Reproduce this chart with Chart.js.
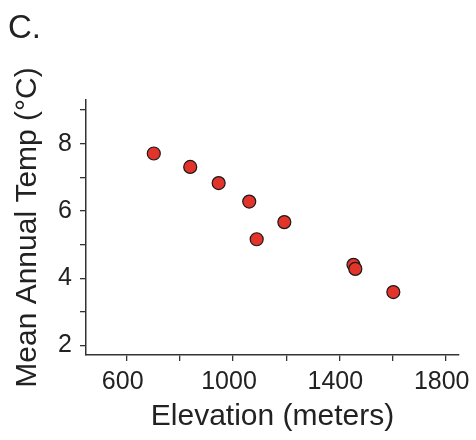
<!DOCTYPE html>
<html><head><meta charset="utf-8">
<script src="https://cdn.jsdelivr.net/npm/chart.js@4/dist/chart.umd.min.js"></script>
<style>html,body{margin:0;padding:0;background:#fff}#wrap{width:476px;height:440px}</style>
</head><body><div id="wrap"><canvas id="c" width="476" height="440"></canvas></div>
<script>
const elevation = [702, 839, 946, 1061, 1089, 1193, 1453, 1460, 1603];
const meanTemp = [7.71, 7.31, 6.83, 6.28, 5.16, 5.67, 4.40, 4.28, 3.59];
const xTicks = [600, 800, 1000, 1200, 1400, 1600, 1800];
const xTickLabels = ['600', '', '1000', '', '1400', '', '1800'];
const yTicks = [2, 3, 4, 5, 6, 7, 8, 9];
const yTickLabels = ['2', '', '4', '', '6', '', '8', ''];
const panelLabel = 'C.';
const xTitle = 'Elevation (meters)';
const yTitle = 'Mean Annual Temp (°C)';

const FONT = "'Liberation Sans', Arial, sans-serif";
const INK = '#222222';
const AXIS = '#333333';

const panelLabelPlugin = {
  id: 'panelLabel',
  afterDraw(chart) {
    const ctx = chart.ctx;
    ctx.save();
    ctx.font = '33px ' + FONT;
    ctx.fillStyle = INK;
    ctx.textAlign = 'left';
    ctx.textBaseline = 'alphabetic';
    ctx.fillText(panelLabel, 8, 38);
    ctx.restore();
  }
};

new Chart(document.getElementById('c'), {
  type: 'scatter',
  data: {
    datasets: [{
      data: elevation.map((x, i) => ({x: x, y: meanTemp[i]})),
      backgroundColor: '#e2342b',
      borderColor: '#1a1a1a',
      borderWidth: 1.2,
      pointRadius: 6.5,
      pointHoverRadius: 6.5
    }]
  },
  options: {
    responsive: false,
    animation: false,
    events: [],
    layout: {padding: {top: 100, right: 17, bottom: 0, left: 0}},
    plugins: {legend: {display: false}, tooltip: {enabled: false}, title: {display: false}},
    scales: {
      x: {
        type: 'linear',
        min: 447, max: 1850,
        afterBuildTicks(scale) { scale.ticks = xTicks.map(v => ({value: v})); },
        afterFit(scale) { scale.height = 85; scale.paddingLeft = 0; scale.paddingRight = 0; },
        grid: {display: true, drawOnChartArea: false, drawTicks: true, tickLength: 6, color: AXIS, lineWidth: 1.3},
        border: {display: true, color: AXIS, width: 1.5},
        ticks: {
          autoSkip: false, maxRotation: 0, padding: 6, labelOffset: -4,
          color: INK, font: {family: FONT, size: 25},
          callback: (v) => { const i = xTicks.indexOf(v); return i >= 0 ? xTickLabels[i] : ''; }
        },
        title: {display: true, text: xTitle, color: INK, font: {family: FONT, size: 30}, padding: {top: 0, bottom: 5}}
      },
      y: {
        type: 'linear',
        min: 1.72, max: 9.3,
        afterBuildTicks(scale) { scale.ticks = yTicks.map(v => ({value: v})); },
        afterFit(scale) { scale.width = 86; scale.paddingTop = 0; scale.paddingBottom = 0; },
        grid: {display: true, drawOnChartArea: false, drawTicks: true, tickLength: 6, color: AXIS, lineWidth: 1.3},
        border: {display: true, color: AXIS, width: 1.5},
        ticks: {
          autoSkip: false, padding: 8,
          color: INK, font: {family: FONT, size: 25},
          callback: (v) => { const i = yTicks.indexOf(v); return i >= 0 ? yTickLabels[i] : ''; }
        },
        title: {display: true, text: yTitle, color: INK, font: {family: FONT, size: 30}, padding: {top: 10, bottom: 0}}
      }
    }
  },
  plugins: [panelLabelPlugin]
});
</script></body></html>
